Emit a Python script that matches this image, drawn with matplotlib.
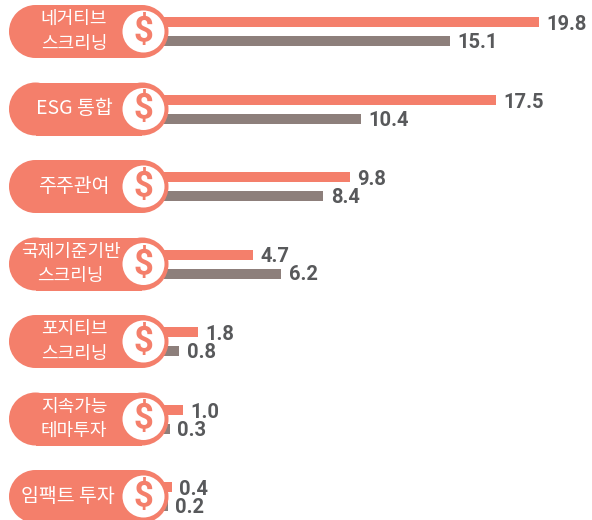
import numpy as np
import matplotlib
matplotlib.use("Agg")
import matplotlib.pyplot as plt
from matplotlib.patches import Rectangle, Circle

plt.rcParams['font.family'] = ['Noto Sans CJK KR', 'DejaVu Sans']

labels = ['네거티브\n스크리닝', 'ESG 통합', '주주관여', '국제기준기반\n스크리닝',
          '포지티브\n스크리닝', '지속가능\n테마투자', '임팩트 투자']
values1 = [19.8, 17.5, 9.8, 4.7, 1.8, 1.0, 0.4]
values2 = [15.1, 10.4, 8.4, 6.2, 0.8, 0.3, 0.2]

coral = '#f47f6b'
gray = '#8d7f7b'
textgray = '#58595b'
num_font = ['Roboto', 'DejaVu Sans']

W, H = 592, 520
fig = plt.figure(figsize=(W / 100, H / 100), dpi=100)

# bars: value 0 at x=164px, 18.95 px per unit
ax = fig.add_axes([164 / W, 0, (W - 164) / W, 1])
ax.set_xlim(0, (W - 164) / 18.95)
ax.set_ylim(H, 0)
ax.axis('off')

row_y = 31.5 + 77.5 * np.arange(len(labels))
ax.barh(row_y - 9.5, values1, 10, color=coral)
ax.barh(row_y + 9.5, values2, 10, color=gray)

for y, v1, v2 in zip(row_y, values1, values2):
    ax.annotate(f'{v1:.1f}', (v1, y - 7), xytext=(5.5, 0), textcoords='offset points',
                va='center', ha='left', fontsize=14.5, fontweight='bold',
                color=textgray, family=num_font)
    ax.annotate(f'{v2:.1f}', (v2, y + 11), xytext=(5.5, 0), textcoords='offset points',
                va='center', ha='left', fontsize=14.5, fontweight='bold',
                color=textgray, family=num_font)

# badges in pixel coordinates on top of the bars
ov = fig.add_axes([0, 0, 1, 1])
ov.set_xlim(0, W)
ov.set_ylim(H, 0)
ov.axis('off')
ov.patch.set_alpha(0)

for i, (y, lab) in enumerate(zip(row_y, labels)):
    ov.add_patch(Rectangle((35.5, y - 26.5), 106.5, 53, fc=coral, ec='none'))
    ov.add_patch(Circle((35.5, y), 26.5, fc=coral, ec='none'))
    ov.add_patch(Circle((142, y), 26.5, fc=coral, ec='none'))
    ov.add_patch(Circle((143.5, y), 21, fc='white', ec='none'))
    ov.text(143.5, y, '$', ha='center', va='center', fontsize=25, fontweight='bold',
            color=coral, family=num_font)
    # the long and single line labels sit a bit further left and run larger
    tx = 74
    fs = 13
    if i == 3:
        tx = 70.5
    if i == 6:
        tx = 68
    if '\n' not in lab:
        fs = 14
    ov.text(tx, y, lab, ha='center', va='center', fontsize=fs, color='white',
            linespacing=1.45, fontweight='light')

fig.savefig('out.png', dpi=100)
